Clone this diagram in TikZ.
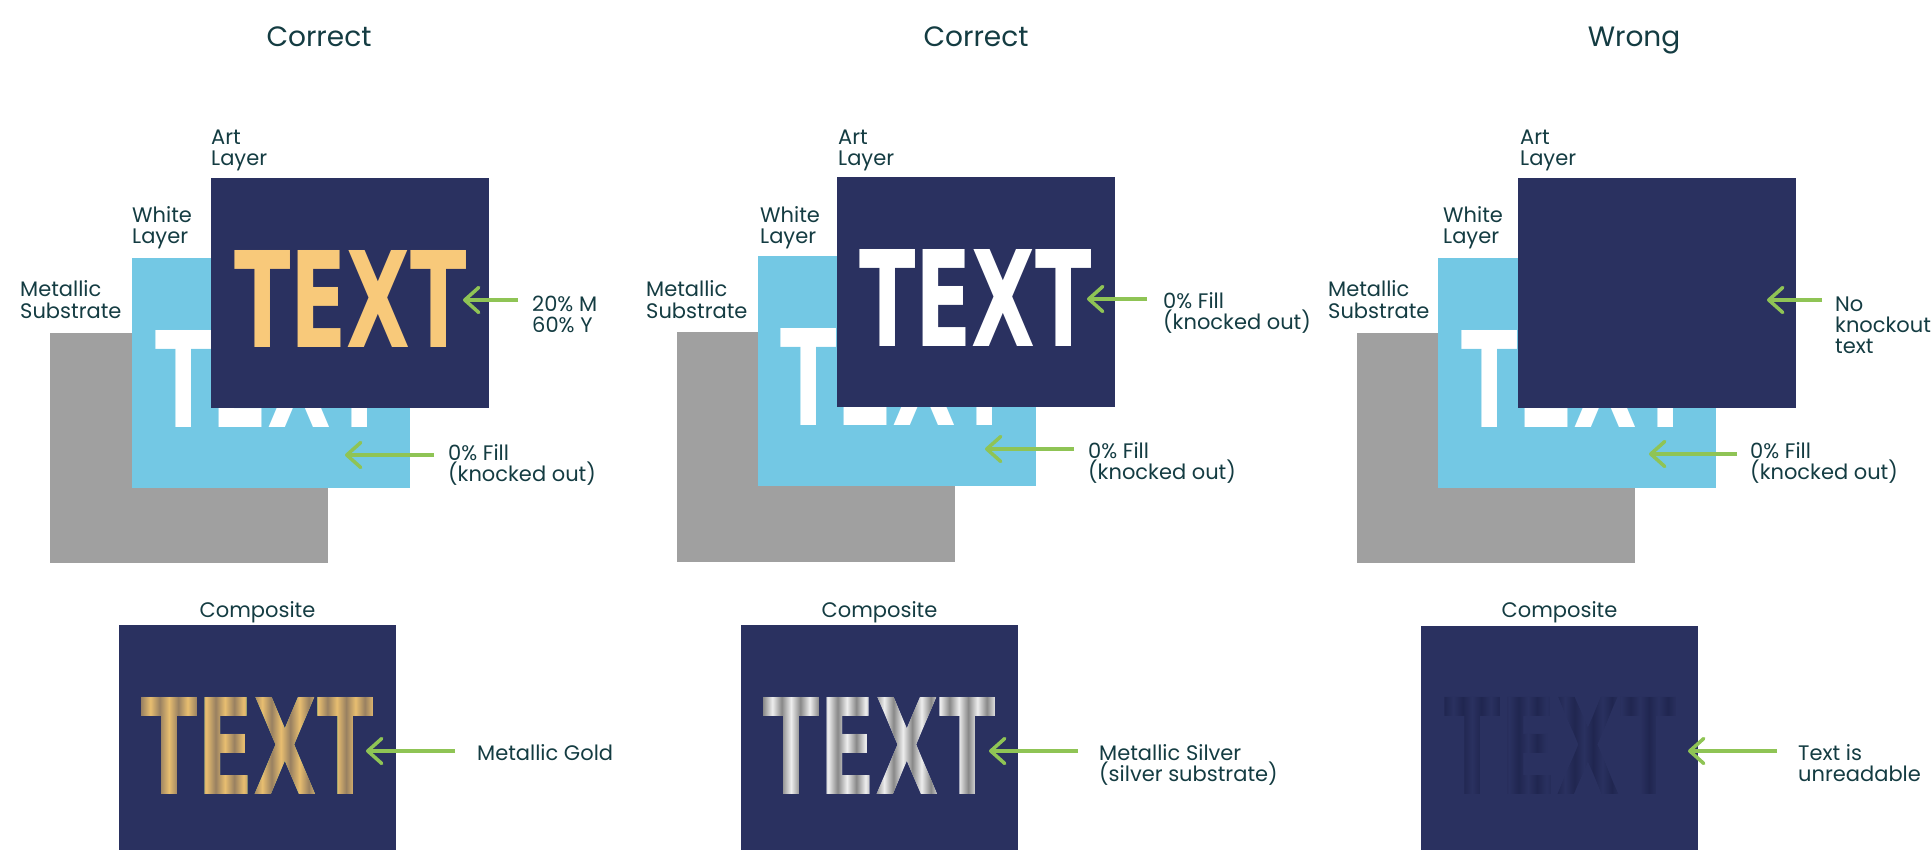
\documentclass[tikz,border=0pt]{standalone}
\usepackage{fontspec}
\usepackage{graphicx}
\setmainfont{Poppins}
\newfontfamily\bigfontface{DejaVu Sans}
\usetikzlibrary{arrows.meta}
\definecolor{navy}{RGB}{42,49,96}
\definecolor{skyblue}{RGB}{115,200,228}
\definecolor{metalgray}{RGB}{160,160,160}
\definecolor{goldflat}{RGB}{248,201,122}
\definecolor{ink}{RGB}{20,60,66}
\definecolor{arrowgreen}{RGB}{143,196,85}
\definecolor{gA}{RGB}{152,128,97}
\definecolor{gB}{RGB}{232,190,112}
\definecolor{sA}{RGB}{136,136,136}
\definecolor{sB}{RGB}{238,238,238}
\definecolor{dA}{RGB}{32,38,80}
\definecolor{dB}{RGB}{42,49,96}
\newcommand\mkstripes[3]{\pgfdeclarehorizontalshading{#1}{100bp}{color(0bp)=(#2); color(25bp)=(#2); color(27bp)=(#3); color(29bp)=(#2); color(31bp)=(#3); color(33bp)=(#2); color(35bp)=(#3); color(37bp)=(#2); color(39bp)=(#3); color(41bp)=(#2); color(43bp)=(#3); color(45bp)=(#2); color(47bp)=(#3); color(49bp)=(#2); color(51bp)=(#3); color(53bp)=(#2); color(55bp)=(#3); color(57bp)=(#2); color(59bp)=(#3); color(61bp)=(#2); color(63bp)=(#3); color(65bp)=(#2); color(67bp)=(#3); color(69bp)=(#2); color(71bp)=(#3); color(73bp)=(#2); color(75bp)=(#3); color(100bp)=(#3)}}
\mkstripes{goldstripes}{gA}{gB}
\mkstripes{silverstripes}{sA}{sB}
\mkstripes{darkstripes}{dA}{dB}
\newcommand\bigword{\resizebox{233pt}{97pt}{\bigfontface\bfseries TEXT}}
\newcommand\lblfont{\fontsize{21}{21}\selectfont}
\newcommand\titlefont{\fontsize{28}{28}\selectfont}
\tikzset{
  layer/.style={anchor=north west, inner sep=0pt, outer sep=0pt, minimum width=278pt, minimum height=230pt},
  compbox/.style={anchor=north west, inner sep=0pt, outer sep=0pt, minimum width=277pt, minimum height=225pt, fill=navy},
  bigtext/.style={anchor=north west, inner sep=0pt, outer sep=0pt},
  lbl/.style={text=ink, font=\lblfont, inner sep=0pt, align=left, anchor=base west},
  clbl/.style={text=ink, font=\lblfont, inner sep=0pt, anchor=base},
  ttl/.style={text=ink, font=\titlefont, inner sep=0pt, anchor=base},
  arr/.style={draw=arrowgreen, line width=3.5pt, -{Straight Barb[length=14pt,width=25pt,round]}},
}
\begin{document}
\begin{tikzpicture}[x=1pt,y=-1pt]
\useasboundingbox (0,0) rectangle (1932,850);

% titles
\node[ttl] (t1) at (319,47) {Correct};
\node[ttl] (t2) at (976,47) {Correct};
\node[ttl] (t3) at (1634,47) {Wrong};

% ---------- panel 1 ----------
\node[layer, fill=metalgray] (p1sub) at (50,333) {};
\node[lbl] (p1subl) at (20,318) {Metallic\\Substrate};
\node[layer, fill=skyblue] (p1white) at (132,258) {};
\node[lbl] (p1whitel) at (132,244) {White\\Layer};
\node[bigtext, text=white] (p1wt) at (155,330) {\bigword};
\node[layer, fill=navy] (p1art) at (211,178) {};
\node[lbl] (p1artl) at (211,166) {Art\\Layer};
\node[bigtext, text=goldflat] (p1gt) at (234,250) {\bigword};
\coordinate (p1a1s) at (518,300); \coordinate (p1a1e) at (463,300);
\draw[arr] (p1a1s) -- (p1a1e);
\node[lbl] (p1a1l) at (532,332) {20\% M\\60\% Y};
\coordinate (p1a2s) at (434,455); \coordinate (p1a2e) at (345,455);
\draw[arr] (p1a2s) -- (p1a2e);
\node[lbl] (p1a2l) at (448,481) {0\% Fill\\(knocked out)};
% composite 1
\node[clbl] (p1cl) at (257.5,617) {Composite};
\node[compbox] (p1comp) at (119,625) {};
\node[bigtext, text=white] (p1ct) at (141,697) {\bigword};
\shade[blend mode=darken, shading=goldstripes] (p1ct.north west) rectangle (p1ct.south east);
\coordinate (p1a3s) at (455,751); \coordinate (p1a3e) at (366,751);
\draw[arr] (p1a3s) -- (p1a3e);
\node[lbl] (p1a3l) at (477,760) {Metallic Gold};

% ---------- panel 2 ----------
\node[layer, fill=metalgray] (p2sub) at (677,332) {};
\node[lbl] (p2subl) at (646,318) {Metallic\\Substrate};
\node[layer, fill=skyblue] (p2white) at (758,256) {};
\node[lbl] (p2whitel) at (760,244) {White\\Layer};
\node[bigtext, text=white] (p2wt) at (780,328) {\bigword};
\node[layer, fill=navy] (p2art) at (837,177) {};
\node[lbl] (p2artl) at (838,166) {Art\\Layer};
\node[bigtext, text=white] (p2nt) at (859,249) {\bigword};
\coordinate (p2a1s) at (1147,299); \coordinate (p2a1e) at (1087,299);
\draw[arr] (p2a1s) -- (p2a1e);
\node[lbl] (p2a1l) at (1163,329) {0\% Fill\\(knocked out)};
\coordinate (p2a2s) at (1074,449); \coordinate (p2a2e) at (985,449);
\draw[arr] (p2a2s) -- (p2a2e);
\node[lbl] (p2a2l) at (1088,479) {0\% Fill\\(knocked out)};
% composite 2
\node[clbl] (p2cl) at (879.5,617) {Composite};
\node[compbox] (p2comp) at (741,625) {};
\node[bigtext, text=white] (p2ct) at (763,697) {\bigword};
\shade[blend mode=darken, shading=silverstripes] (p2ct.north west) rectangle (p2ct.south east);
\coordinate (p2a3s) at (1078,751); \coordinate (p2a3e) at (989,751);
\draw[arr] (p2a3s) -- (p2a3e);
\node[lbl] (p2a3l) at (1099,781) {Metallic Silver\\(silver substrate)};

% ---------- panel 3 ----------
\node[layer, fill=metalgray] (p3sub) at (1357,333) {};
\node[lbl] (p3subl) at (1328,318) {Metallic\\Substrate};
\node[layer, fill=skyblue] (p3white) at (1438,258) {};
\node[lbl] (p3whitel) at (1443,244) {White\\Layer};
\node[bigtext, text=white] (p3wt) at (1461,330) {\bigword};
\node[layer, fill=navy] (p3art) at (1518,178) {};
\node[lbl] (p3artl) at (1520,166) {Art\\Layer};
\coordinate (p3a1s) at (1822,300); \coordinate (p3a1e) at (1767,300);
\draw[arr] (p3a1s) -- (p3a1e);
\node[lbl] (p3a1l) at (1835,353) {No\\knockout\\text};
\coordinate (p3a2s) at (1737,454); \coordinate (p3a2e) at (1649,454);
\draw[arr] (p3a2s) -- (p3a2e);
\node[lbl] (p3a2l) at (1750,479) {0\% Fill\\(knocked out)};
% composite 3
\node[clbl] (p3cl) at (1559.5,617) {Composite};
\node[compbox] (p3comp) at (1421,626) {};
\node[bigtext, text=dA] (p3ct) at (1444,697) {\bigword};
\shade[blend mode=lighten, shading=darkstripes] (p3ct.north west) rectangle (p3ct.south east);
\coordinate (p3a3s) at (1777,751); \coordinate (p3a3e) at (1688,751);
\draw[arr] (p3a3s) -- (p3a3e);
\node[lbl] (p3a3l) at (1798,781) {Text is\\unreadable};
\end{tikzpicture}
\end{document}
